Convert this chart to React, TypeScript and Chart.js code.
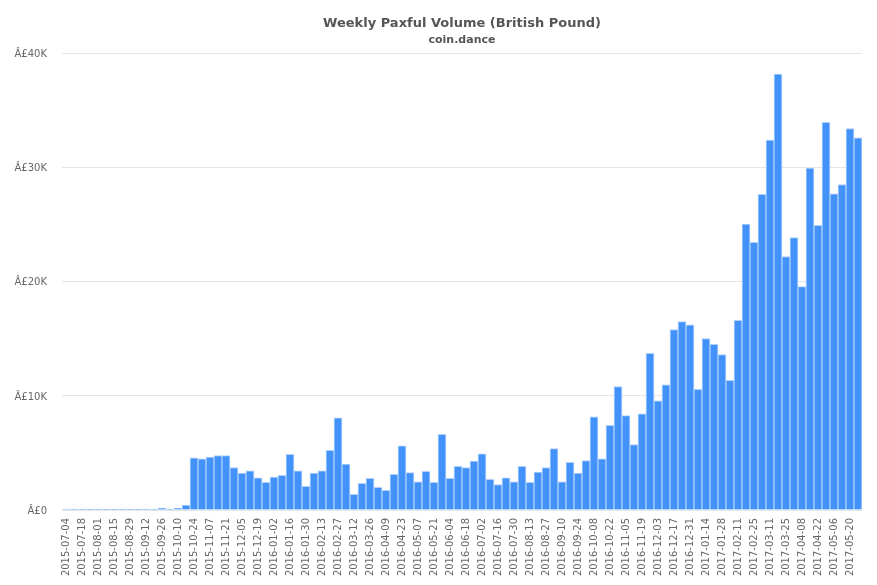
import React, { useEffect, useRef } from "react";
import Chart from "chart.js/auto";

const weeks = [
  "2015-07-04", "2015-07-11", "2015-07-18", "2015-07-25", "2015-08-01", "2015-08-08", "2015-08-15", "2015-08-22", "2015-08-29", "2015-09-05",
  "2015-09-12", "2015-09-19", "2015-09-26", "2015-10-03", "2015-10-10", "2015-10-17", "2015-10-24", "2015-10-31", "2015-11-07", "2015-11-14",
  "2015-11-21", "2015-11-28", "2015-12-05", "2015-12-12", "2015-12-19", "2015-12-26", "2016-01-02", "2016-01-09", "2016-01-16", "2016-01-23",
  "2016-01-30", "2016-02-06", "2016-02-13", "2016-02-20", "2016-02-27", "2016-03-05", "2016-03-12", "2016-03-19", "2016-03-26", "2016-04-02",
  "2016-04-09", "2016-04-16", "2016-04-23", "2016-04-30", "2016-05-07", "2016-05-14", "2016-05-21", "2016-05-28", "2016-06-04", "2016-06-11",
  "2016-06-18", "2016-06-25", "2016-07-02", "2016-07-09", "2016-07-16", "2016-07-23", "2016-07-30", "2016-08-06", "2016-08-13", "2016-08-20",
  "2016-08-27", "2016-09-03", "2016-09-10", "2016-09-17", "2016-09-24", "2016-10-01", "2016-10-08", "2016-10-15", "2016-10-22", "2016-10-29",
  "2016-11-05", "2016-11-12", "2016-11-19", "2016-11-26", "2016-12-03", "2016-12-10", "2016-12-17", "2016-12-24", "2016-12-31", "2017-01-07",
  "2017-01-14", "2017-01-21", "2017-01-28", "2017-02-04", "2017-02-11", "2017-02-18", "2017-02-25", "2017-03-04", "2017-03-11", "2017-03-18",
  "2017-03-25", "2017-04-01", "2017-04-08", "2017-04-15", "2017-04-22", "2017-04-29", "2017-05-06", "2017-05-13", "2017-05-20", "2017-05-27",
];

const volume = [
  50, 90, 90, 10, 90, 20, 20, 90, 5, 60,
  90, 90, 170, 20, 170, 440, 4580, 4480, 4630, 4780,
  4780, 3730, 3230, 3430, 2830, 2430, 2880, 3030, 4880, 3430,
  2080, 3230, 3430, 5230, 8080, 4030, 1380, 2330, 2780, 1980,
  1730, 3130, 5630, 3280, 2480, 3380, 2430, 6630, 2780, 3830,
  3730, 4280, 4930, 2680, 2230, 2830, 2480, 3830, 2430, 3330,
  3730, 5380, 2480, 4180, 3230, 4330, 8180, 4480, 7430, 10830,
  8280, 5730, 8430, 13730, 9580, 10980, 15830, 16530, 16230, 10580,
  15030, 14530, 13630, 11380, 16630, 25060, 23460, 27680, 32430, 38230,
  22230, 23880, 19590, 29970, 24950, 34000, 27730, 28540, 33450, 32640,
];

const yTicks = [0, 10000, 20000, 30000, 40000];

const FONT = "'DejaVu Sans', sans-serif";

export default function App() {
  const chartRef = useRef<HTMLCanvasElement | null>(null);

  useEffect(() => {
    if (!chartRef.current) return;
    const chart = new Chart(chartRef.current, {
      type: "bar",
      data: {
        labels: weeks,
        datasets: [
          {
            label: "Volume",
            data: volume,
            backgroundColor: "rgba(66,146,250,1)",
            borderColor: "rgba(175,210,252,1)",
            borderWidth: 1,
            barPercentage: 1,
            categoryPercentage: 1,
          },
        ],
      },
      options: {
        responsive: false,
        animation: false,
        layout: { padding: { top: 0, right: 15, bottom: 0, left: 0 } },
        plugins: {
          legend: { display: false },
          tooltip: { enabled: false },
          title: {
            display: true,
            fullSize: false,
            text: "Weekly Paxful Volume (British Pound)",
            color: "#555555",
            font: { family: FONT, size: 13, weight: "bold" },
            padding: { top: 16, bottom: 0 },
          },
          subtitle: {
            display: true,
            fullSize: false,
            text: "coin.dance",
            color: "#555555",
            font: { family: FONT, size: 11, weight: "bold" },
            padding: { top: 2, bottom: 7 },
          },
        },
        scales: {
          x: {
            grid: { display: false },
            border: { display: false },
            afterFit: (scale: any) => {
              scale.height = 75;
            },
            ticks: {
              autoSkip: false,
              maxRotation: 90,
              minRotation: 90,
              padding: 0,
              color: "#666666",
              font: { family: FONT, size: 10 },
              callback: (_v: any, i: number) => (i % 2 === 0 ? weeks[i] : ""),
            },
          },
          y: {
            min: 0,
            max: 40000,
            grid: { color: "#e6e6e6", drawTicks: false },
            border: { display: false },
            afterFit: (scale: any) => {
              scale.width = 62;
            },
            afterBuildTicks: (scale: any) => {
              scale.ticks = yTicks.map((value) => ({ value }));
            },
            ticks: {
              padding: 15,
              labelOffset: 1,
              color: "#666666",
              font: { family: FONT, size: 10 },
              callback: (v: any) => (v === 0 ? "Â£0" : "Â£" + v / 1000 + "K"),
            },
          },
        },
      },
    });
    return () => chart.destroy();
  }, []);

  return (
    <div style={{ position: "absolute", left: 0, top: 0, width: 877, height: 585, background: "#fff" }}>
      <canvas ref={chartRef} width={877} height={585} style={{ display: "block" }}></canvas>
    </div>
  );
}
